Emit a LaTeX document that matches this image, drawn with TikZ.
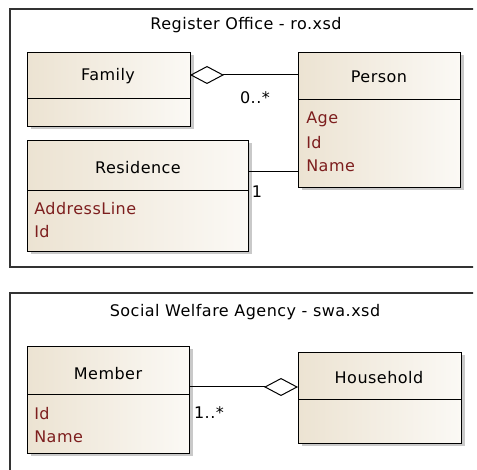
\documentclass[tikz,border=0pt]{standalone}
\usepackage{fontspec}
\setmainfont{DejaVu Sans}[LetterSpace=3]
\usepackage{tikz}
\usetikzlibrary{arrows.meta,positioning,calc,shadows}
\definecolor{classfill}{RGB}{236,227,210}
\definecolor{classlight}{RGB}{251,249,245}
\definecolor{attrred}{RGB}{125,30,30}
\tikzset{classbox/.style={draw=black,line width=1pt,anchor=north west,inner sep=0pt,left color=classfill,right color=classlight,drop shadow={shadow xshift=3pt,shadow yshift=-3pt,fill=black!35,opacity=0.6}}}
\tikzset{classname/.style={text=black,font=\fontsize{16}{18}\selectfont,inner sep=1pt}}
\tikzset{attr/.style={text=attrred,font=\fontsize{16}{18}\selectfont,anchor=west,inner sep=1pt}}
\tikzset{mult/.style={text=black,font=\fontsize{16}{18}\selectfont,inner sep=1pt}}
\tikzset{pkgtitle/.style={text=black,font=\fontsize{16}{18}\selectfont,inner sep=1pt}}
\tikzset{aggr/.style={line width=1pt,-{Diamond[open,length=34pt,width=18pt,line width=1pt]}}}

\begin{document}
\begin{tikzpicture}[x=1pt, y=-1pt, semithick]
\useasboundingbox[fill=white] (0,0) rectangle (477,470);
    % package frames
    \begin{scope}
    \clip (0,0) rectangle (473,470);
    \draw[line width=1.2pt, black!80] (10,9) rectangle (490,267);
    \draw[line width=1.2pt, black!80] (10,293) rectangle (490,490);
    \end{scope}
    \node[pkgtitle] (rotitle) at (246,25) {Register Office - ro.xsd};
    \node[pkgtitle] (swatitle) at (245,312) {Social Welfare Agency - swa.xsd};
    % Register Office classes
    \node[classbox, minimum width=163pt, minimum height=74pt] (family) at (27,52) {};
    \node[classbox, minimum width=162pt, minimum height=135pt] (person) at (298,52) {};
    \node[classbox, minimum width=221pt, minimum height=111pt] (residence) at (27,140) {};
    \draw[line width=1pt] (27,99) -- (190,99);
    \draw[line width=1pt] (298,100) -- (460,100);
    \draw[line width=1pt] (27,191) -- (248,191);
    \node[classname] (familyname) at (108,76) {Family};
    \node[classname] (personname) at (379,77) {Person};
    \node[classname] (residencename) at (138,168) {Residence};
    \node[attr] (age) at (305,119) {Age};
    \node[attr] (pid) at (305,143) {Id};
    \node[attr] (pname) at (305,166) {Name};
    \node[attr] (addr) at (33,209) {AddressLine};
    \node[attr] (rid) at (33,232) {Id};
    \coordinate (famjoin) at (190,75);
    \coordinate (resjoin) at (248,172);
    \draw[aggr] (person.west |- famjoin) -- (famjoin);
    \draw[line width=1pt] (resjoin) -- (person.west |- resjoin);
    \node[mult] (famm) at (255,98) {0..*};
    \node[mult] (resm) at (257,192) {1};
    % Social Welfare Agency classes
    \node[classbox, minimum width=162pt, minimum height=107pt] (member) at (27,346) {};
    \node[classbox, minimum width=163pt, minimum height=91pt] (household) at (298,352) {};
    \draw[line width=1pt] (27,395) -- (189,395);
    \draw[line width=1pt] (298,400) -- (461,400);
    \node[classname] (membername) at (108,374) {Member};
    \node[classname] (householdname) at (379,378) {Household};
    \node[attr] (mid) at (33,414) {Id};
    \node[attr] (mname) at (33,437) {Name};
    \coordinate (memjoin) at (189,387);
    \draw[aggr] (memjoin) -- (household.west |- memjoin);
    \node[mult] (memm) at (209,413) {1..*};
\end{tikzpicture}
\end{document}
